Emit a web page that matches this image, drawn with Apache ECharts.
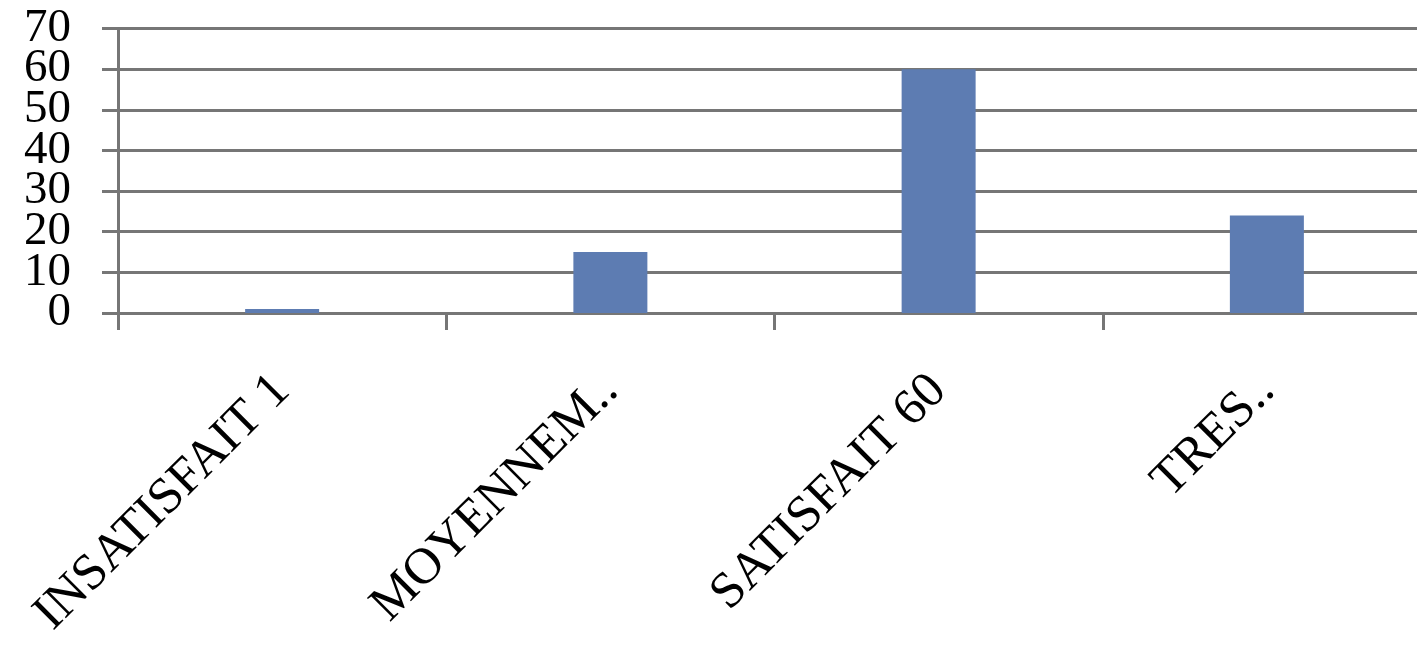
<!DOCTYPE html>
<html>
<head>
<meta charset="utf-8">
<script src="https://cdn.jsdelivr.net/npm/echarts@6/dist/echarts.min.js"></script>
<style>
html,body{margin:0;padding:0;background:#fff;}
#chart{width:1417px;height:646px;}
</style>
</head>
<body>
<div id="chart"></div>
<script>
const categories = ["INSATISFAIT 1", "MOYENNEM..", "SATISFAIT 60", "TRES.."];
const values = [1, 15, 60, 24];
const yTicks = [0, 10, 20, 30, 40, 50, 60, 70];

const gray = "#767676";
// labels split in two sets on two overlaid axes so that none are hidden as overlapping
const yLabelsA = yTicks.filter((v, i) => i % 2 === 0);
const yLabelsB = yTicks.filter((v, i) => i % 2 === 1);
const yLabelStyle = {margin: 47, color: "#000", fontFamily: "Liberation Serif", fontSize: 47, hideOverlap: false};

const chart = echarts.init(document.getElementById("chart"), null, {renderer: "canvas"});
chart.setOption({
  animation: false,
  backgroundColor: "#ffffff",
  grid: {left: 118, top: 28.5, width: 1313, bottom: 333, containLabel: false, outerBoundsMode: "none"},
  xAxis: {
    type: "category",
    data: categories,
    boundaryGap: true,
    axisLine: {show: true, lineStyle: {color: gray, width: 3}},
    axisTick: {show: true, length: 17, lineStyle: {color: gray, width: 3}},
    axisLabel: {
      interval: 0,
      rotate: 45,
      margin: 70,
      color: "#000",
      fontFamily: "Liberation Serif",
      fontSize: 51
    },
    splitLine: {show: false}
  },
  yAxis: [{
    type: "value",
    position: "left",
    min: yTicks[0],
    max: yTicks[yTicks.length - 1],
    interval: 10,
    axisLine: {show: true, lineStyle: {color: gray, width: 3}},
    axisTick: {show: true, length: 16, customValues: yTicks, lineStyle: {color: gray, width: 3}},
    axisLabel: Object.assign({customValues: yLabelsA}, yLabelStyle),
    splitLine: {show: true, lineStyle: {color: gray, width: 3}}
  }, {
    type: "value",
    position: "left",
    offset: 0,
    min: yTicks[0],
    max: yTicks[yTicks.length - 1],
    interval: 10,
    axisLine: {show: false},
    axisTick: {show: false},
    axisLabel: Object.assign({customValues: yLabelsB}, yLabelStyle),
    splitLine: {show: false}
  }],
  series: [{
    type: "bar",
    yAxisIndex: 0,
    data: values,
    barWidth: 74,
    itemStyle: {color: "#5D7CB2"}
  }]
});
</script>
</body>
</html>
